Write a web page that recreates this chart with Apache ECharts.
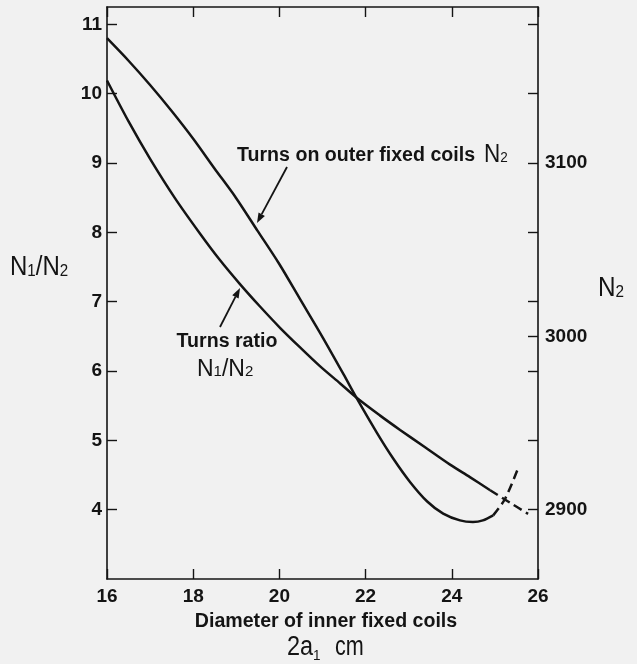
<!DOCTYPE html>
<html><head><meta charset="utf-8">
<script src="https://cdn.jsdelivr.net/npm/echarts@6/dist/echarts.min.js"></script>
<style>html,body{margin:0;padding:0;background:#f1f1f1}#c{width:637px;height:664px}</style>
</head><body><div id="c"></div>
<script>
// ---- data ----
const xTicks = [16, 18, 20, 22, 24, 26];
const leftTicks = [4, 5, 6, 7, 8, 9, 10, 11];
const rightTicks = [2900, 2940, 2980, 3000, 3020, 3060, 3100, 3140, 3180];
const rightLabels = [2900, 3000, 3100];

// Turns ratio N1/N2 (left axis)
const ratioX = [16.00, 16.50, 17.00, 17.58, 18.16, 18.62, 19.09, 19.55, 20.02, 20.48, 20.94, 21.41, 21.80, 22.33, 22.80, 23.38, 23.96, 24.42, 24.89];
const ratioY = [10.19, 9.60, 9.06, 8.49, 7.98, 7.60, 7.25, 6.93, 6.62, 6.34, 6.07, 5.82, 5.61, 5.36, 5.15, 4.90, 4.65, 4.47, 4.28];
const ratioDashX = [24.89, 25.35, 25.77];
const ratioDashY = [4.28, 4.10, 3.94];

// Turns on outer fixed coils N2 (right axis)
const n2X = [16.00, 16.50, 17.00, 17.50, 18.00, 18.49, 18.99, 19.49, 19.99, 20.49, 20.99, 21.49, 21.80, 22.27, 22.64, 23.03, 23.43, 23.80, 24.19, 24.49, 24.72, 24.96];
const n2Y = [3172, 3159, 3145, 3130, 3114, 3097, 3080, 3061, 3042, 3021, 3000, 2978, 2964, 2944, 2929.5, 2916, 2904.7, 2897.7, 2893.8, 2892.9, 2893.8, 2896.7];
const n2DashX = [24.96, 25.23, 25.54];
const n2DashY = [2896.7, 2906, 2924];

// ---- chart ----
const FONT = "'Liberation Sans', Arial, Helvetica, sans-serif";
const INK = '#141414';
const pairs = (xs, ys) => xs.map((x, i) => [x, ys[i]]);

const chart = echarts.init(document.getElementById('c'), null, {renderer: 'canvas'});

const axisLine = {show: true, onZero: false, lineStyle: {color: INK, width: 1.6}};
const tick = {show: true, inside: true, length: 10, lineStyle: {color: INK, width: 1.4}};
const lbl = {color: INK, fontFamily: FONT, fontWeight: 'bold', fontSize: 19, formatter: v => String(v)};

function arrow(x1, y1, x2, y2) {
  const dx = x2 - x1, dy = y2 - y1, len = Math.hypot(dx, dy);
  const ux = dx / len, uy = dy / len, hl = 10, hw = 3.6;
  const bx = x2 - ux * hl, by = y2 - uy * hl;
  return [
    {type: 'line', shape: {x1: x1, y1: y1, x2: bx, y2: by}, style: {stroke: INK, lineWidth: 1.8}},
    {type: 'polygon', shape: {points: [[x2, y2], [bx - uy * hw, by + ux * hw], [bx + uy * hw, by - ux * hw]]}, style: {fill: INK}}
  ];
}

const lineSeries = (name, xs, ys, yIdx, dashed) => ({
  name: name, type: 'line', xAxisIndex: 0, yAxisIndex: yIdx,
  data: pairs(xs, ys), smooth: 0.3, showSymbol: false, symbol: 'none',
  lineStyle: {color: INK, width: 2.5, type: dashed ? [9, 5] : 'solid'},
  silent: true, animation: false, z: 3
});

// label: big letters with smaller digits sitting on the baseline
const nLabel = (text, big, small) => ({
  text: text, verticalAlign: 'middle', align: 'left', fill: INK,
  rich: {n: {fontFamily: FONT, fontSize: big, verticalAlign: 'bottom', lineHeight: big, fill: INK},
         d: {fontFamily: FONT, fontSize: small, verticalAlign: 'bottom', lineHeight: small, padding: [0, 0, 2, 0], fill: INK}}
});

chart.setOption({
  backgroundColor: '#f1f1f1',
  animation: false,
  grid: {left: 107, right: 99, top: 7, bottom: 85, outerBoundsMode: 'none'},
  xAxis: [
    {type: 'value', position: 'bottom', min: 16, max: 26, interval: 2,
     axisLine: axisLine, axisTick: tick, splitLine: {show: false},
     axisLabel: Object.assign({}, lbl, {margin: 8, customValues: xTicks})},
    {type: 'value', position: 'top', min: 16, max: 26, interval: 2,
     axisLine: axisLine, axisTick: tick, splitLine: {show: false}, axisLabel: {show: false}}
  ],
  yAxis: [
    {type: 'value', position: 'left', min: 3, max: 11.25,
     axisLine: axisLine, axisTick: Object.assign({customValues: leftTicks}, tick), splitLine: {show: false},
     axisLabel: Object.assign({}, lbl, {margin: 5, customValues: leftTicks})},
    {type: 'value', position: 'right', min: 2860, max: 3190,
     axisLine: axisLine, axisTick: Object.assign({customValues: rightTicks}, tick), splitLine: {show: false},
     axisLabel: Object.assign({}, lbl, {margin: 7, customValues: rightLabels})}
  ],
  series: [
    lineSeries('Turns ratio N1/N2', ratioX, ratioY, 0, false),
    lineSeries('Turns ratio N1/N2 (extrapolated)', ratioDashX, ratioDashY, 0, true),
    lineSeries('Turns on outer fixed coils N2', n2X, n2Y, 1, false),
    lineSeries('Turns on outer fixed coils N2 (extrapolated)', n2DashX, n2DashY, 1, true)
  ],
  graphic: [
    // left axis title N1/N2
    {type: 'text', x: 10, y: 268, scaleX: 0.89, style: nLabel('{n|N}{d|1}{n|/N}{d|2}', 27, 17)},
    // right axis title N2
    {type: 'text', x: 598, y: 289, scaleX: 0.9, style: nLabel('{n|N}{d|2}', 27, 17)},
    // annotation: outer coils
    {type: 'text', x: 237, y: 156, style: {text: 'Turns on outer fixed coils', font: 'bold 19.6px ' + FONT, fill: INK, align: 'left', verticalAlign: 'middle'}},
    {type: 'text', x: 484, y: 155, scaleX: 0.9, style: nLabel('{n|N}{d|2}', 25, 15)},
    ...arrow(287, 167, 257, 223),
    // annotation: turns ratio
    {type: 'text', x: 227, y: 342, style: {text: 'Turns ratio', font: 'bold 19.6px ' + FONT, fill: INK, align: 'center', verticalAlign: 'middle'}},
    {type: 'text', x: 197, y: 370, style: nLabel('{n|N}{d|1}{n|/N}{d|2}', 23, 15)},
    ...arrow(220, 327, 240, 288),
    // x axis title
    {type: 'text', x: 326, y: 622, style: {text: 'Diameter of inner fixed coils', font: 'bold 19.6px ' + FONT, fill: INK, align: 'center', verticalAlign: 'middle'}},
    {type: 'text', x: 287, y: 648, scaleX: 0.87, style: {text: '2a', font: '27px ' + FONT, fill: INK, align: 'left', verticalAlign: 'middle'}},
    {type: 'text', x: 313, y: 656, scaleX: 0.9, style: {text: '1', font: '15px ' + FONT, fill: INK, align: 'left', verticalAlign: 'middle'}},
    {type: 'text', x: 335, y: 648, scaleX: 0.8, style: {text: 'cm', font: '27px ' + FONT, fill: INK, align: 'left', verticalAlign: 'middle'}}
  ]
});
</script>
</body></html>
